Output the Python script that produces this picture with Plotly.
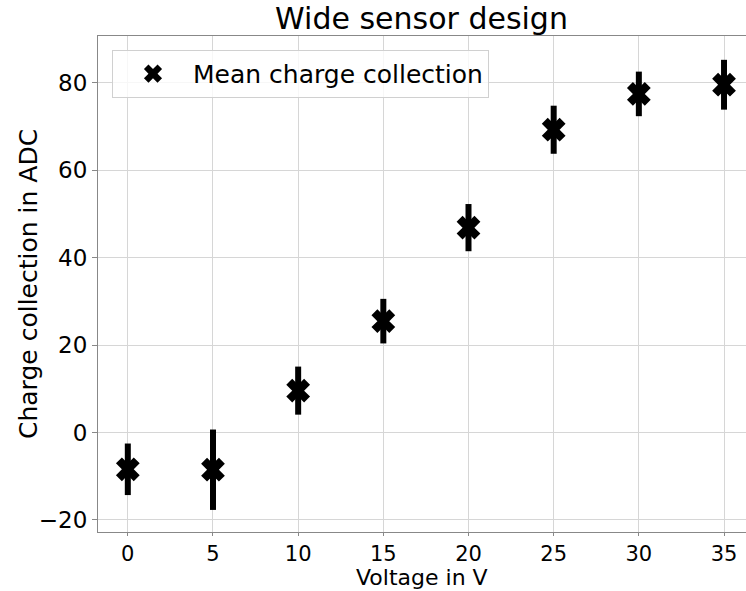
import plotly.graph_objects as go

voltage = [0, 5, 10, 15, 20, 25, 30, 35]
mean_charge = [-8.4, -8.5, 9.6, 25.5, 46.9, 69.3, 77.5, 79.6]
charge_err = [5.9, 9.2, 5.5, 5.1, 5.4, 5.5, 5.1, 5.7]
x_ticks = [0, 5, 10, 15, 20, 25, 30, 35]
y_ticks = [-20, 0, 20, 40, 60, 80]

fig = go.Figure()
fig.add_trace(go.Scatter(
    x=voltage, y=mean_charge, mode="markers",
    name="Mean charge collection",
    marker=dict(symbol="x", size=21, color="black"),
    error_y=dict(type="data", array=charge_err, visible=True,
                 thickness=6, width=0, color="black"),
))

font = "DejaVu Sans, sans-serif"
fig.update_layout(
    width=746, height=591,
    margin=dict(l=98, r=0, t=36, b=59),
    paper_bgcolor="white", plot_bgcolor="white",
    font=dict(family=font, size=24, color="black"),
    title=dict(text="Wide sensor design", x=0.565, xanchor="center",
               y=0.969, yanchor="middle", font=dict(size=30)),
    showlegend=True,
    legend=dict(x=0.0216, y=0.972, xanchor="left", yanchor="top",
                bgcolor="rgba(255,255,255,0.8)", bordercolor="#d0d0d0",
                borderwidth=1, font=dict(size=25), itemwidth=70),
)
fig.update_xaxes(
    range=[-1.75, 36.29], tickvals=x_ticks, ticktext=[str(v) for v in x_ticks],
    showgrid=True, gridcolor="#d6d6d6", gridwidth=1,
    showline=True, linecolor="#888888", linewidth=1, mirror=True,
    ticks="outside", ticklen=3, tickcolor="#888888",
    zeroline=False, tickfont=dict(size=21),
)
fig.update_yaxes(
    range=[-22.75, 90.75], tickvals=y_ticks,
    ticktext=["\u221220" if v < 0 else str(v) for v in y_ticks],
    showgrid=True, gridcolor="#d6d6d6", gridwidth=1,
    showline=True, linecolor="#888888", linewidth=1, mirror=True,
    ticks="outside", ticklen=5, tickcolor="#888888",
    zeroline=False, tickfont=dict(size=23),
)
fig.add_annotation(
    text="Voltage in V", xref="paper", yref="paper", x=0.5, y=0,
    xanchor="center", yanchor="bottom", yshift=-59, showarrow=False,
    font=dict(size=22), borderpad=0,
)
fig.add_annotation(
    text="Charge collection in ADC", xref="paper", yref="paper", x=0, y=0.5,
    xanchor="center", yanchor="middle", xshift=-70, textangle=-90,
    showarrow=False, font=dict(size=25),
)

fig.write_html("out.html")
